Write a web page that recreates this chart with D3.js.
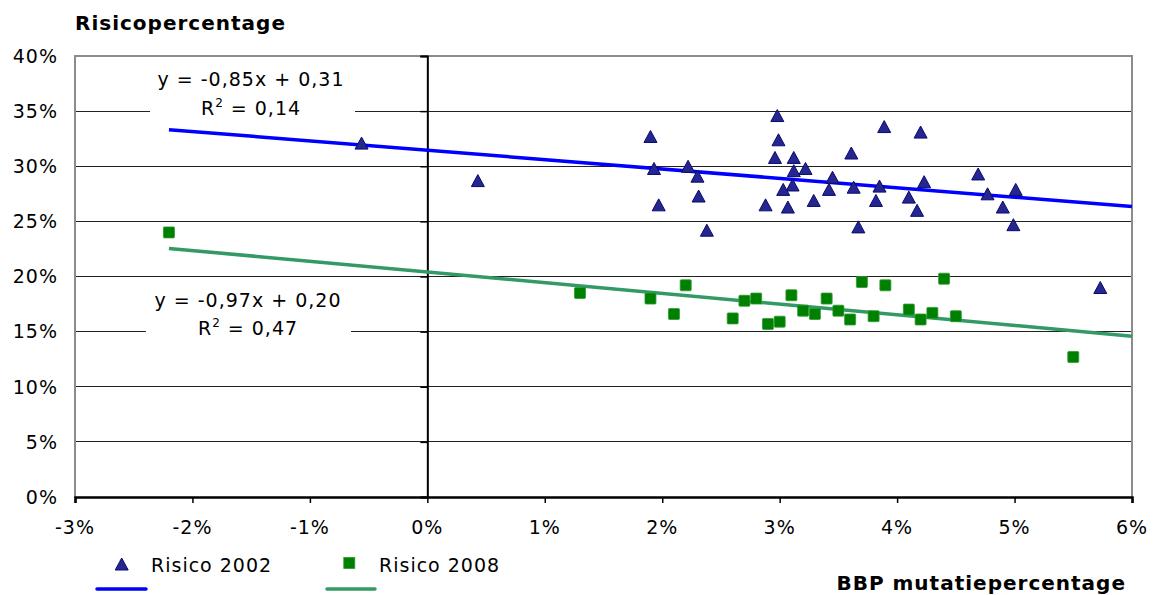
<!DOCTYPE html>
<html lang="nl">
<head>
<meta charset="UTF-8">
<title>Risico vs BBP</title>
<script src="https://cdn.jsdelivr.net/npm/d3@7"></script>
<style>
  body { margin: 0; background: #fff; }
  text { font-family: "DejaVu Sans", Verdana, sans-serif; letter-spacing: 1px; fill: #000; }
  .bold { font-weight: bold; }
</style>
</head>
<body>
<div id="chart"></div>
<script>
var bbp2002 = [-0.56, 0.43, 1.90, 1.93, 1.97, 2.22, 2.30, 2.31, 2.38, 2.98, 2.99, 2.96, 3.12, 3.12, 3.22,
  3.11, 3.03, 2.88, 3.07, 3.29, 3.45, 3.42, 3.61, 3.63, 3.67, 3.85, 3.82, 3.89, 4.20, 4.23, 4.10, 4.17,
  4.69, 4.77, 4.90, 5.01, 4.99, 5.73];
var risico2002 = [32.1, 28.7, 32.7, 29.8, 26.5, 30.0, 29.1, 27.3, 24.2, 34.6, 32.4, 30.8, 30.8, 29.6, 29.8,
  28.3, 27.9, 26.5, 26.3, 26.9, 29.0, 27.9, 31.2, 28.1, 24.5, 28.2, 26.9, 33.6, 33.1, 28.6, 27.2, 26.0,
  29.3, 27.5, 26.3, 27.9, 24.7, 19.0];
var bbp2008 = [-2.2, 1.3, 1.9, 2.1, 2.2, 2.6, 2.7, 2.8, 2.9, 3.0, 3.1, 3.2, 3.3, 3.4, 3.5, 3.6, 3.7, 3.8,
  3.9, 4.1, 4.2, 4.3, 4.4, 4.5, 5.5];
var risico2008 = [24.0, 18.5, 18.0, 16.6, 19.2, 16.2, 17.8, 18.0, 15.7, 15.9, 18.3, 16.9, 16.6, 18.0, 16.9,
  16.1, 19.5, 16.4, 19.2, 17.0, 16.1, 16.7, 19.8, 16.4, 12.7];

// trendlijnen (helling, snijpunt) en labels
var trendSlope = [-0.85, -0.97];
var trendIntercept = [31.45, 20.41];
var trendRange = [-2.2, 6];
var trendLabels = [["y = -0,85x + 0,31", "R", " = 0,14"], ["y = -0,97x + 0,20", "R", " = 0,47"]];
var seriesNames = ["Risico 2002", "Risico 2008"];

var xTicks = [-3, -2, -1, 0, 1, 2, 3, 4, 5, 6];
var yTicks = [0, 5, 10, 15, 20, 25, 30, 35, 40];

var W = 1153, H = 595;
var svg = d3.select("#chart").append("svg").attr("width", W).attr("height", H);

var x = d3.scaleLinear().domain([-3, 6]).range([75, 1132]);
var y = d3.scaleLinear().domain([0, 40]).range([497, 56]);

// gridlines
svg.append("g").selectAll("line").data(yTicks.filter(d => d > 0 && d < 40)).join("line")
  .attr("x1", x(-3)).attr("x2", x(6))
  .attr("y1", d => y(d)).attr("y2", d => y(d))
  .attr("stroke", "#222").attr("stroke-width", 1).attr("shape-rendering", "crispEdges");

// plot border (left, top, right)
svg.append("path")
  .attr("d", `M${x(-3)},${y(0)}V${y(40)}H${x(6)}V${y(0)}`)
  .attr("fill", "none").attr("stroke", "#8c8c8c").attr("stroke-width", 2);

// equation labels with white background
var labelPos = [{cx: 251, b1: 86, b2: 115, box: [150, 62, 205, 58]},
                {cx: 248, b1: 307, b2: 335, box: [146, 285, 205, 56]}];
labelPos.forEach(function (p, i) {
  svg.append("rect").attr("x", p.box[0]).attr("y", p.box[1]).attr("width", p.box[2]).attr("height", p.box[3])
    .attr("fill", "#fff");
  svg.append("text").attr("x", p.cx).attr("y", p.b1).attr("text-anchor", "middle")
    .style("font-size", "19px").text(trendLabels[i][0]);
  var t = svg.append("text").attr("x", p.cx).attr("y", p.b2).attr("text-anchor", "middle")
    .style("font-size", "19px");
  t.append("tspan").text(trendLabels[i][1]);
  t.append("tspan").attr("dy", -8).style("font-size", "12px").text("2");
  t.append("tspan").attr("dy", 8).text(trendLabels[i][2]);
});

// y axis at x = 0
var yAxis = d3.axisLeft(y).tickValues(yTicks).tickSize(7).tickFormat("");
svg.append("g").attr("transform", `translate(${x(0)},0)`).call(yAxis)
  .call(g => g.select(".domain").attr("stroke-width", 2))
  .call(g => g.selectAll(".tick line").attr("stroke-width", 1.5));

// x axis at y = 0
var xAxis = d3.axisBottom(x).tickValues(xTicks).tickSize(6).tickFormat("");
svg.append("g").attr("transform", `translate(0,${y(0)})`).call(xAxis)
  .call(g => g.select(".domain").attr("stroke-width", 2.5))
  .call(g => g.selectAll(".tick line").attr("stroke-width", 1.5));

// tick labels
svg.append("g").selectAll("text").data(yTicks).join("text")
  .attr("x", 58).attr("y", d => y(d)).attr("dy", "0.36em").attr("text-anchor", "end")
  .style("font-size", "19px").text(d => d + "%");
svg.append("g").selectAll("text").data(xTicks).join("text")
  .attr("x", d => x(d)).attr("y", 534).attr("text-anchor", "middle")
  .style("font-size", "19px").text(d => d + "%");

// trendlines
var colors = ["#0000ff", "#339966"];
trendSlope.forEach(function (s, i) {
  svg.append("line")
    .attr("x1", x(trendRange[0])).attr("y1", y(trendIntercept[i] + s * trendRange[0]))
    .attr("x2", x(trendRange[1])).attr("y2", y(trendIntercept[i] + s * trendRange[1]))
    .attr("stroke", colors[i]).attr("stroke-width", 3.5);
});

// markers
function tri(cx, cy) {
  return `M${cx},${cy - 6}L${cx + 6.5},${cy + 6}L${cx - 6.5},${cy + 6}Z`;
}
svg.append("g").selectAll("path").data(d3.range(bbp2002.length)).join("path")
  .attr("d", i => tri(x(bbp2002[i]), y(risico2002[i])))
  .attr("fill", "#262690").attr("stroke", "#0a0a6e").attr("stroke-width", 1);

svg.append("g").selectAll("rect").data(d3.range(bbp2008.length)).join("rect")
  .attr("x", i => x(bbp2008[i]) - 5.5).attr("y", i => y(risico2008[i]) - 5.5)
  .attr("width", 11).attr("height", 11).attr("rx", 1)
  .attr("fill", "#008000").attr("stroke", "#2f9a2f").attr("stroke-width", 0.8);

// axis titles
svg.append("text").attr("class", "bold").attr("x", 75).attr("y", 30)
  .style("font-size", "20px").text("Risicopercentage");
svg.append("text").attr("class", "bold").attr("x", 1126).attr("y", 590).attr("text-anchor", "end")
  .style("font-size", "20px").text("BBP mutatiepercentage");

// legend
var leg = [{mx: 121.7, my: 564, tx: 151, l: [97, 146]}, {mx: 349.3, my: 563, tx: 379, l: [327, 375]}];
leg.forEach(function (p, i) {
  if (i === 0) {
    svg.append("path").attr("d", tri(p.mx, p.my)).attr("fill", "#262690").attr("stroke", "#0a0a6e");
  } else {
    svg.append("rect").attr("x", p.mx - 5.5).attr("y", p.my - 5.5).attr("width", 11).attr("height", 11)
      .attr("fill", "#008000").attr("stroke", "#2f9a2f").attr("stroke-width", 0.8);
  }
  svg.append("text").attr("x", p.tx).attr("y", 572).style("font-size", "19px").text(seriesNames[i]);
  svg.append("line").attr("x1", p.l[0]).attr("x2", p.l[1]).attr("y1", 589).attr("y2", 589)
    .attr("stroke", colors[i]).attr("stroke-width", 3.5).attr("stroke-linecap", "round");
});
</script>
</body>
</html>
